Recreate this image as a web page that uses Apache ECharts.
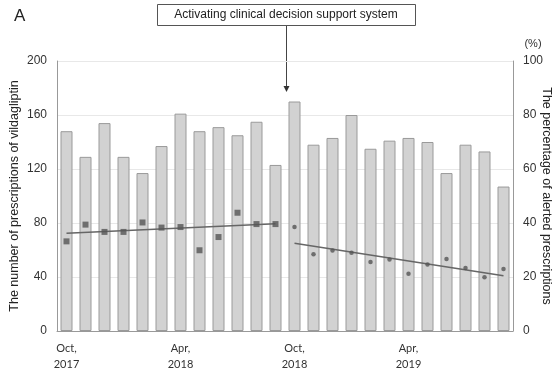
<!DOCTYPE html>
<html><head><meta charset="utf-8">
<script src="https://cdn.jsdelivr.net/npm/echarts@6/dist/echarts.min.js"></script>
<style>html,body{margin:0;padding:0;background:#fff}#c{width:560px;height:375px}</style>
</head><body><div id="c"></div>
<script>
const months = ['Oct,\n2017','Nov,\n2017','Dec,\n2017','Jan,\n2018','Feb,\n2018','Mar,\n2018','Apr,\n2018','May,\n2018','Jun,\n2018','Jul,\n2018','Aug,\n2018','Sep,\n2018',
                'Oct,\n2018','Nov,\n2018','Dec,\n2018','Jan,\n2019','Feb,\n2019','Mar,\n2019','Apr,\n2019','May,\n2019','Jun,\n2019','Jul,\n2019','Aug,\n2019','Sep,\n2019'];
const prescriptions = [148,129,154,129,117,137,161,148,151,145,155,123,
                       170,138,143,160,135,141,143,140,117,138,133,107];
const alertPre = [33.2,39.4,36.7,36.7,40.2,38.3,38.5,29.9,34.8,43.8,39.6,39.6];
const alertPost = [38.5,28.4,29.8,29.0,25.6,26.5,21.2,24.6,26.7,23.3,19.9,23.0];
const trendPre = [[0,36.2],[11,39.7]];
const trendPost = [[12,32.5],[23,20.5]];
const leftTicks = [0,40,80,120,160,200];
const rightTicks = [0,20,40,60,80,100];
const shownLabels = [0,6,12,18];

const chart = echarts.init(document.getElementById('c'), null, {renderer:'canvas'});
const font = 'Liberation Sans, Arial, sans-serif';
const pre = alertPre.map((v,i)=>[i,v]);
const post = alertPost.map((v,i)=>[i+12,v]);
chart.setOption({
  animation:false,
  textStyle:{fontFamily:font},
  grid:{left:57,right:47,top:61,bottom:44,containLabel:false,outerBoundsMode:'none'},
  xAxis:{type:'category',data:months,boundaryGap:true,
    axisLine:{lineStyle:{color:'#999',width:1}},
    axisTick:{alignWithLabel:true,length:6,lineStyle:{color:'#555'},interval:(i)=>shownLabels.includes(i)},
    axisLabel:{interval:(i)=>shownLabels.includes(i),color:'#333',fontSize:11,lineHeight:15.5,margin:10,fontFamily:'Lato, sans-serif'}},
  yAxis:[
    {type:'value',min:0,max:200,interval:40,
     axisLine:{show:true,lineStyle:{color:'#999'}},axisTick:{show:false},
     axisLabel:{color:'#333',fontSize:12,margin:10},
     splitLine:{lineStyle:{color:'#e8e8e8'}}},
    {type:'value',min:0,max:100,interval:20,
     axisLine:{show:true,lineStyle:{color:'#999'}},axisTick:{show:false},
     axisLabel:{color:'#333',fontSize:12,margin:10},
     splitLine:{show:false}}
  ],
  series:[
    {type:'bar',data:prescriptions,barWidth:12,yAxisIndex:0,
     itemStyle:{color:'#d2d2d2',borderColor:'#9a9a9a',borderWidth:1}},
    {type:'scatter',data:pre,yAxisIndex:1,symbol:'rect',symbolSize:6,itemStyle:{color:'#555'},z:5},
    {type:'scatter',data:post,yAxisIndex:1,symbol:'circle',symbolSize:4.5,itemStyle:{color:'#555'},z:5},
    {type:'line',data:trendPre,yAxisIndex:1,showSymbol:false,lineStyle:{color:'#666',width:1.5},z:4},
    {type:'line',data:trendPost,yAxisIndex:1,showSymbol:false,lineStyle:{color:'#666',width:1.5},z:4}
  ],
  graphic:[
    {type:'text',left:14,top:8,style:{text:'A',fontSize:17,fill:'#222',fontFamily:font}},
    {type:'rect',shape:{x:157.5,y:4.5,width:258,height:21},style:{fill:'#fff',stroke:'#555',lineWidth:1}},
    {type:'text',x:286,y:15,style:{text:'Activating clinical decision support system',fontSize:12,fill:'#222',fontFamily:font,textAlign:'center',textVerticalAlign:'middle'}},
    {type:'line',shape:{x1:286.5,y1:26,x2:286.5,y2:88},style:{stroke:'#444',lineWidth:1}},
    {type:'polygon',shape:{points:[[283.5,86],[289.5,86],[286.5,92]]},style:{fill:'#333'}},
    {type:'text',x:533,y:44,style:{text:'(%)',fontSize:11,fill:'#333',fontFamily:font,textAlign:'center',textVerticalAlign:'middle'}},
    {type:'text',x:15,y:196,rotation:Math.PI/2,style:{text:'The number of prescriptions of vildagliptin',fontSize:12.5,fill:'#222',fontFamily:font,textAlign:'center',textVerticalAlign:'middle'}},
    {type:'text',x:546,y:196,rotation:-Math.PI/2,style:{text:'The percentage of alerted prescriptions',fontSize:12.5,fill:'#222',fontFamily:font,textAlign:'center',textVerticalAlign:'middle'}}
  ]
});
</script></body></html>
